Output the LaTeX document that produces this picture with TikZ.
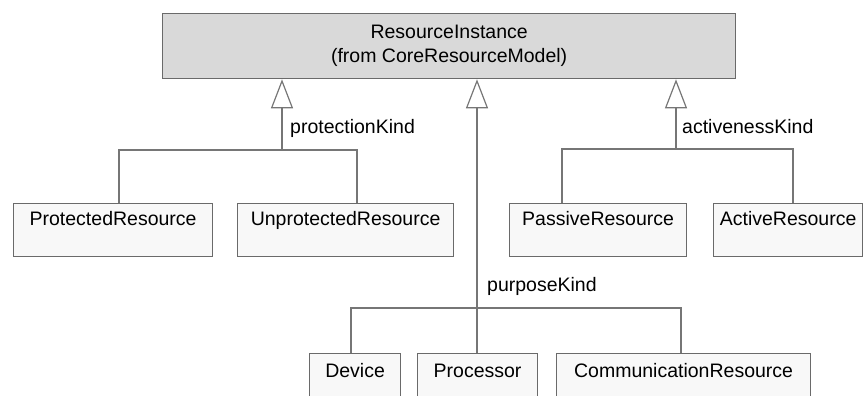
\documentclass[tikz,border=0pt]{standalone}
\usepackage{fontspec}
\setmainfont{Liberation Sans}
\usetikzlibrary{arrows.meta}
\definecolor{linegray}{HTML}{767676}
\definecolor{boxborder}{HTML}{6A6A6A}
\definecolor{topfill}{HTML}{D9D9D9}
\definecolor{boxfill}{HTML}{F8F8F8}
\begin{document}
\begin{tikzpicture}[x=1pt,y=-1pt,
  every node/.style={font=\fontsize{19.5}{24}\selectfont},
  cls/.style={draw=boxborder, fill=boxfill, line width=1.2pt, anchor=north west,
    inner xsep=0pt, inner ysep=8pt, text height=14pt, text depth=23pt, minimum width=#1},
  clsb/.style={draw=boxborder, fill=boxfill, line width=1.2pt, anchor=north west,
    inner xsep=0pt, inner ysep=10pt, text height=14pt, text depth=40pt, minimum width=#1},
  conn/.style={draw=linegray, line width=1.2pt},
  gen/.style={conn, -{Triangle[open, length=29pt, width=22pt, line width=1.2pt]}},
  lbl/.style={anchor=base west, inner sep=0pt}
]
\useasboundingbox (0,0) rectangle (863,396);
\clip (0,0) rectangle (863,396);

% top class
\node[draw=boxborder, fill=topfill, line width=1.3pt, anchor=north west,
      minimum width=573pt, minimum height=65pt, inner sep=0pt, align=center]
      (top) at (162,13) {ResourceInstance\\(from CoreResourceModel)};

% first row
\node[cls=199pt] (prot) at (13,203) {ProtectedResource};
\node[cls=216pt] (unprot) at (237,203) {UnprotectedResource};
\node[cls=177pt] (passive) at (509,203) {PassiveResource};
\node[cls=149pt] (active) at (713,203) {ActiveResource};

% second row
\node[clsb=91pt] (device) at (309,353) {Device};
\node[clsb=120pt] (proc) at (417,353) {Processor};
\node[clsb=254pt] (comm) at (556,353) {CommunicationResource};

% junction coordinates
\coordinate (jl) at (282,150);
\coordinate (jl1) at (119,150);
\coordinate (jl2) at (357,150);
\coordinate (jr) at (676,149);
\coordinate (jr1) at (562,149);
\coordinate (jr2) at (793,149);
\coordinate (jm) at (477,308);
\coordinate (jm1) at (351,308);
\coordinate (jm2) at (681,308);

% protectionKind
\draw[conn] (jl1 |- prot.north) -- (jl1) -- (jl2) -- (jl2 |- unprot.north);
\draw[gen] (jl) -- (jl |- top.south);
\node[lbl] (lp) at (290,134) {protectionKind};

% activenessKind
\draw[conn] (jr1 |- passive.north) -- (jr1) -- (jr2) -- (jr2 |- active.north);
\draw[gen] (jr) -- (jr |- top.south);
\node[lbl] (la) at (682,133) {activenessKind};

% purposeKind
\draw[conn] (jm1 |- device.north) -- (jm1) -- (jm2) -- (jm2 |- comm.north);
\draw[conn] (jm |- proc.north) -- (jm);
\draw[gen] (jm) -- (jm |- top.south);
\node[lbl] (lk) at (487,291) {purposeKind};
\end{tikzpicture}
\end{document}
